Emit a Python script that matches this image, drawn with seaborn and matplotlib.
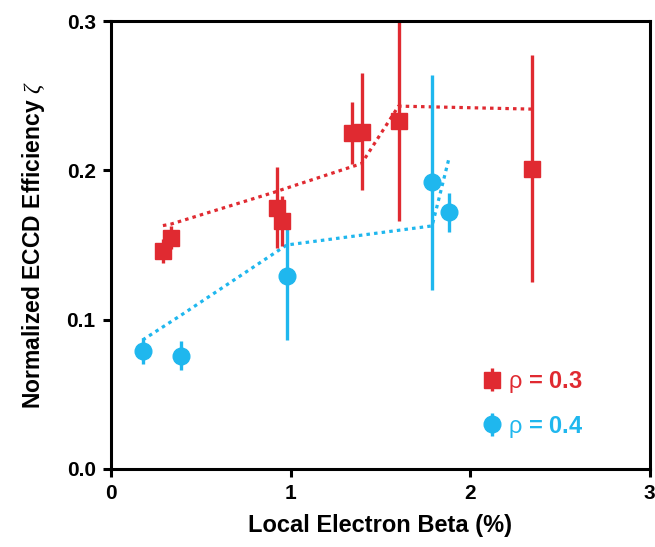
import numpy as np
import pandas as pd
import seaborn as sns
import matplotlib
matplotlib.use("Agg")
import matplotlib.pyplot as plt

# rho = 0.3 measurements
beta_03 = [0.289, 0.334, 0.927, 0.950, 1.343, 1.395, 1.601, 2.344]
zeta_03 = [0.146, 0.155, 0.175, 0.166, 0.225, 0.226, 0.233, 0.201]
err_03 = [0.008, 0.008, 0.027, 0.017, 0.021, 0.039, 0.067, 0.076]
model_03 = [0.163, 0.164, 0.186, 0.187, 0.2025, 0.2045, 0.243, 0.241]

# rho = 0.4 measurements
beta_04 = [0.176, 0.390, 0.978, 1.788, 1.881]
zeta_04 = [0.079, 0.076, 0.129, 0.192, 0.172]
err_04 = [0.009, 0.0097, 0.0425, 0.072, 0.013]
model_04 = [0.0864, 0.103, 0.150, 0.1628, 0.2076]

red = "#e02a31"
blue = "#1fb7ee"

sns.set_theme(style="ticks")
plt.rcParams['font.family'] = ['Liberation Sans', 'DejaVu Sans']
plt.rcParams['font.weight'] = 'bold'
plt.rcParams['axes.labelweight'] = 'bold'
plt.rcParams['text.color'] = 'black'
plt.rcParams['axes.labelcolor'] = 'black'
plt.rcParams['xtick.color'] = 'black'
plt.rcParams['ytick.color'] = 'black'
plt.rcParams['mathtext.fontset'] = 'custom'
plt.rcParams['mathtext.rm'] = 'Liberation Sans:weight=normal'
plt.rcParams['mathtext.it'] = 'Liberation Serif:italic:weight=normal'

df03 = pd.DataFrame({'beta': beta_03, 'model': model_03})
df04 = pd.DataFrame({'beta': beta_04, 'model': model_04})

fig = plt.figure(figsize=(6.55, 5.47), dpi=100)
ax = fig.add_axes([0.1695, 0.1426, 0.8225, 0.819])

sns.lineplot(data=df03, x='beta', y='model', color=red, lw=2.3,
             linestyle=(0, (1.1, 1.3)), sort=False, ax=ax)
sns.lineplot(data=df04, x='beta', y='model', color=blue, lw=2.3,
             linestyle=(0, (1.1, 1.3)), sort=False, ax=ax)

h03 = ax.errorbar(beta_03, zeta_03, yerr=err_03, fmt='s', color=red, ms=12,
                  elinewidth=2.4, capsize=0, label='$\\mathrm{\\rho}$ = 0.3')
h04 = ax.errorbar(beta_04, zeta_04, yerr=err_04, fmt='o', color=blue, ms=12,
                  elinewidth=2.4, capsize=0, label='$\\mathrm{\\rho}$ = 0.4')

ax.set_xlim(0, 3)
ax.set_ylim(0, 0.3)
ax.set_xticks([0, 1, 2, 3])
ax.set_yticks([0.0, 0.1, 0.2, 0.3])
ax.set_yticklabels(['0.0', '0.1', '0.2', '0.3'])
ax.tick_params(direction='out', length=6, width=2.2, labelsize=15, pad=5)
for s in ax.spines.values():
    s.set_linewidth(2.2)
    s.set_color('black')
    s.set_visible(True)

ax.set_xlabel('Local Electron Beta (%)', fontsize=17, labelpad=8)
ax.set_ylabel('Normalized ECCD Efficiency $\\zeta$', fontsize=16.5, labelpad=14)

leg = ax.legend(handles=[h03, h04], loc='lower left', bbox_to_anchor=(0.65, 0.018),
                frameon=False, fontsize=17, handlelength=0.8, handletextpad=0.3,
                labelspacing=0.8)
for t, c in zip(leg.get_texts(), [red, blue]):
    t.set_color(c)

fig.savefig('out.png', dpi=100)
